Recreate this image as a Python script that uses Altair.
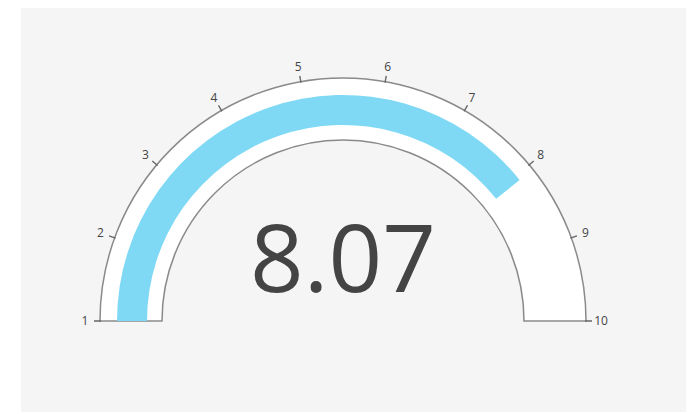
import math
import altair as alt
import pandas as pd

# --- data ---
gauge_min = [1]
gauge_max = [10]
gauge_value = [8.07]
tick_values = [1, 2, 3, 4, 5, 6, 7, 8, 9, 10]

CX, CY = 322, 313
theta_scale = alt.Scale(domain=[gauge_min[0], gauge_max[0]],
                        range=[1.5 * math.pi, 2.5 * math.pi], zero=False, nice=False)

base_df = pd.DataFrame({"lo": gauge_min, "hi": gauge_max, "val": gauge_value})
ticks_df = pd.DataFrame({"tick": tick_values})

band = alt.Chart(base_df).mark_arc(
    radius=243, radius2=181, fill="white", stroke="#8a8a8a", strokeWidth=1.5
).encode(
    x=alt.value(CX), y=alt.value(CY),
    theta=alt.Theta("lo:Q", scale=theta_scale, stack=None),
    theta2="hi:Q",
)

value_arc = alt.Chart(base_df).mark_arc(
    radius=226, radius2=196, fill="#7fd9f5"
).encode(
    x=alt.value(CX), y=alt.value(CY),
    theta=alt.Theta("lo:Q", scale=theta_scale, stack=None),
    theta2="val:Q",
)

ticks = alt.Chart(ticks_df).transform_calculate(
    t0="datum.tick - 0.008", t1="datum.tick + 0.008"
).mark_arc(radius=249, radius2=242, fill="#666666").encode(
    x=alt.value(CX), y=alt.value(CY),
    theta=alt.Theta("t0:Q", scale=theta_scale, stack=None),
    theta2="t1:Q",
)

labels = alt.Chart(ticks_df).mark_text(
    radius=258, font="Open Sans", fontSize=12, color="#444444",
    align="center", baseline="middle"
).encode(
    x=alt.value(CX), y=alt.value(CY),
    theta=alt.Theta("tick:Q", scale=theta_scale, stack=None),
    text=alt.Text("tick:Q"),
)

big = alt.Chart(base_df).mark_text(
    font="Open Sans", fontSize=94, color="#444444",
    align="center", baseline="alphabetic"
).encode(
    x=alt.value(CX), y=alt.value(284),
    text=alt.Text("val:Q", format=".2f"),
)

chart = alt.layer(band, value_arc, ticks, labels, big).properties(
    width=665, height=404,
    padding={"left": 13, "top": 0, "right": 0, "bottom": 0},
    background="white",
).configure_view(stroke=None, fill="#f5f5f5")

chart.save("out.html", embed_options={"renderer": "svg", "actions": False})
